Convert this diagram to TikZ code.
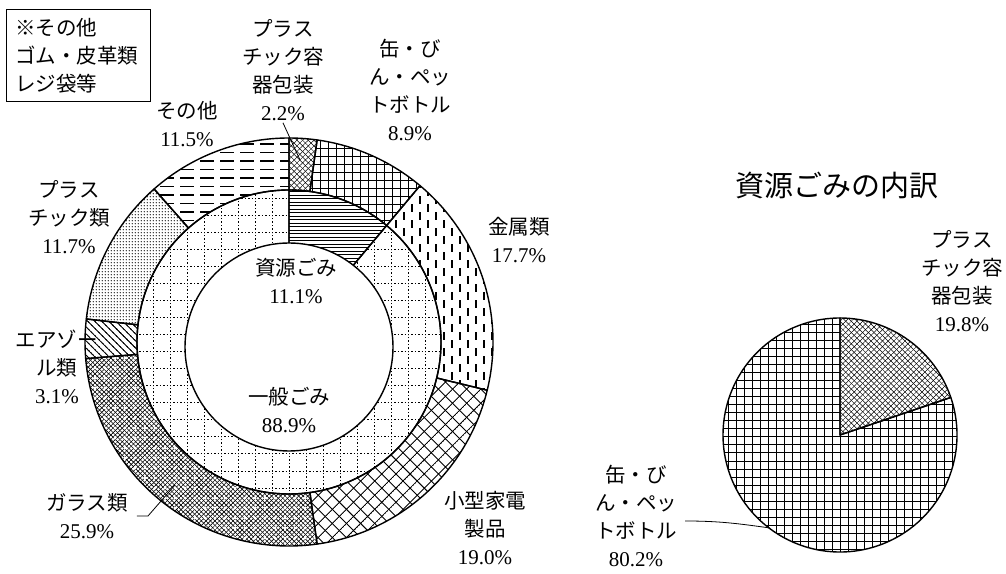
\documentclass[tikz,border=0pt]{standalone}
\usepackage{fontspec}
\newfontfamily\jp{Noto Sans CJK JP}
\newfontfamily\numfont{Liberation Serif}
\usetikzlibrary{patterns,patterns.meta,positioning}

\newcommand{\pc}[1]{{\numfont\fontsize{21}{28}\selectfont #1\%}}

% fill patterns of the chart
\tikzdeclarepattern{
  name=hlines,
  bottom left={(-1pt,-1pt)},
  top right={(4.5pt,1pt)},
  tile size={(3.5pt,3.5pt)},
  code={\draw[line width=.9pt] (-1pt,0pt) -- (4.5pt,0pt);}
}
\tikzdeclarepattern{
  name=dotgrid,
  bottom left={(-1pt,-1pt)},
  top right={(18pt,18pt)},
  tile size={(17pt,17pt)},
  code={\draw[line width=1pt, dash pattern=on 1.4pt off 2pt] (0pt,0pt) -- (17pt,0pt) (0pt,0pt) -- (0pt,17pt);}
}
\tikzdeclarepattern{
  name=biggrid,
  bottom left={(-.6pt,-.6pt)},
  top right={(8.6pt,8.6pt)},
  tile size={(8pt,8pt)},
  code={\draw[line width=1pt] (0pt,0pt) -- (8pt,0pt) (0pt,0pt) -- (0pt,8pt);}
}
\tikzdeclarepattern{
  name=vdash,
  bottom left={(2pt,0pt)},
  top right={(14pt,17pt)},
  tile size={(16pt,16pt)},
  code={\draw[line width=1.6pt] (4pt,1pt) -- (4pt,9pt) (12pt,9pt) -- (12pt,17pt);}
}
\tikzdeclarepattern{
  name=diagrid,
  bottom left={(-.5pt,-.5pt)},
  top right={(10.5pt,10.5pt)},
  tile size={(10pt,10pt)},
  tile transformation={rotate=45},
  code={\draw[line width=.9pt] (0pt,0pt) -- (10pt,0pt) (0pt,0pt) -- (0pt,10pt);}
}
\tikzdeclarepattern{
  name=dashh,
  bottom left={(0pt,3pt)},
  top right={(14pt,5pt)},
  tile size={(20pt,8.5pt)},
  code={\draw[line width=1.1pt] (0pt,4pt) -- (14pt,4pt);}
}
\tikzdeclarepattern{
  name=densecross,
  bottom left={(-.4pt,-.4pt)},
  top right={(3.6pt,3.6pt)},
  tile size={(3.2pt,3.2pt)},
  tile transformation={rotate=45},
  code={\draw[line width=.6pt] (0pt,0pt) -- (3.2pt,0pt) (0pt,0pt) -- (0pt,3.2pt);}
}
\tikzdeclarepattern{
  name=finecross,
  bottom left={(-.4pt,-.4pt)},
  top right={(4.4pt,4.4pt)},
  tile size={(4pt,4pt)},
  tile transformation={rotate=45},
  code={\draw[line width=.5pt] (0pt,0pt) -- (4pt,0pt) (0pt,0pt) -- (0pt,4pt);}
}
\tikzdeclarepattern{
  name=whitedots,
  bottom left={(2.5pt,2.5pt)},
  top right={(7.5pt,7.5pt)},
  tile size={(10pt,10pt)},
  code={\fill (5pt,5pt) circle[radius=1.7pt];}
}
\tikzdeclarepattern{
  name=densedots,
  bottom left={(0pt,0pt)},
  top right={(3.2pt,3.2pt)},
  tile size={(3.2pt,3.2pt)},
  code={\fill (1.6pt,1.6pt) circle[radius=.85pt];}
}
\tikzdeclarepattern{
  name=nwlines,
  bottom left={(-1pt,-.6pt)},
  top right={(6pt,.6pt)},
  tile size={(5pt,5pt)},
  tile transformation={rotate=-45},
  code={\draw[line width=.9pt] (-1pt,0pt) -- (6pt,0pt);}
}

\begin{document}
\begin{tikzpicture}[x=1pt,y=1pt,
  lbl/.style={font=\jp\fontsize{20.5}{28}\selectfont, align=center, inner sep=2pt},
  wedgeline/.style={line width=1.4pt, line join=round},
  leader/.style={line width=.8pt}]
\useasboundingbox (0,0) rectangle (1006,573);

% donut chart
\begin{scope}[shift={(289,231)}]
  % outer ring
  \draw[wedgeline, pattern=finecross] (90:204pt) arc[start angle=90, end angle=82.08, radius=204pt] -- (82.08:152pt) arc[start angle=82.08, end angle=90, radius=152pt] -- cycle;
  \draw[wedgeline, pattern=biggrid] (82.08:204pt) arc[start angle=82.08, end angle=50.04, radius=204pt] -- (50.04:152pt) arc[start angle=50.04, end angle=82.08, radius=152pt] -- cycle;
  \draw[wedgeline, pattern=vdash] (50.04:204pt) arc[start angle=50.04, end angle=-13.68, radius=204pt] -- (-13.68:152pt) arc[start angle=-13.68, end angle=50.04, radius=152pt] -- cycle;
  \draw[wedgeline, pattern=diagrid] (-13.68:204pt) arc[start angle=-13.68, end angle=-82.08, radius=204pt] -- (-82.08:152pt) arc[start angle=-82.08, end angle=-13.68, radius=152pt] -- cycle;
  \draw[wedgeline, preaction={pattern=densecross, pattern color=black}, pattern=whitedots, pattern color=white] (-82.08:204pt) arc[start angle=-82.08, end angle=-175.32, radius=204pt] -- (-175.32:152pt) arc[start angle=-175.32, end angle=-82.08, radius=152pt] -- cycle;
  \draw[wedgeline, pattern=nwlines] (-175.32:204pt) arc[start angle=-175.32, end angle=-186.48, radius=204pt] -- (-186.48:152pt) arc[start angle=-186.48, end angle=-175.32, radius=152pt] -- cycle;
  \draw[wedgeline, pattern=densedots] (-186.48:204pt) arc[start angle=-186.48, end angle=-228.6, radius=204pt] -- (-228.6:152pt) arc[start angle=-228.6, end angle=-186.48, radius=152pt] -- cycle;
  \draw[wedgeline, pattern=dashh] (-228.6:204pt) arc[start angle=-228.6, end angle=-270, radius=204pt] -- (-270:152pt) arc[start angle=-270, end angle=-228.6, radius=152pt] -- cycle;
  % inner ring
  \draw[wedgeline, pattern=hlines] (0,0) -- (90:152pt) arc[start angle=90, end angle=50.04, radius=152pt] -- cycle;
  \draw[wedgeline, pattern=dotgrid] (0,0) -- (50.04:152pt) arc[start angle=50.04, end angle=-270, radius=152pt] -- cycle;
  \draw[wedgeline, fill=white] (0,-5) circle[radius=104pt];
\end{scope}

% pie of resource waste
\begin{scope}[shift={(840,138)}]
  \draw[wedgeline, pattern=finecross] (0,0) -- (90:117pt) arc[start angle=90, end angle=18.72, radius=117pt] -- cycle;
  \draw[wedgeline, pattern=biggrid] (0,0) -- (18.72:117pt) arc[start angle=18.72, end angle=-270, radius=117pt] -- cycle;
\end{scope}

\node[lbl, draw, line width=1pt, minimum width=144pt, minimum height=92pt, align=left, text width=126pt] (notebox) at (78,517) {※その他\\ゴム・皮革類\\レジ袋等};

\node[lbl] (otherlbl) at (187,449) {その他\\\pc{11.5}};
\node[lbl] (pcontlbl) at (283,503) {プラス\\チック容\\器包装\\\pc{2.2}};
\node[lbl] (canlbl) at (410,483) {缶・び\\ん・ペッ\\トボトル\\\pc{8.9}};
\node[lbl] (metallbl) at (519,333) {金属類\\\pc{17.7}};
\node[lbl] (eleclbl) at (485,45) {小型家電\\製品\\\pc{19.0}};
\node[lbl] (glasslbl) at (87,57) {ガラス類\\\pc{25.9}};
\node[lbl] (aerolbl) at (57,206) {エアゾー\\ル類\\\pc{3.1}};
\node[lbl] (plasticlbl) at (69,356) {プラス\\チック類\\\pc{11.7}};
\node[lbl] (reslbl) at (296,292) {資源ごみ\\\pc{11.1}};
\node[lbl] (genlbl) at (289,163) {一般ごみ\\\pc{88.9}};

\node[lbl, font=\jp\fontsize{29}{34}\selectfont] (title) at (837,388) {資源ごみの内訳};
\node[lbl] (pcont2) at (962,292) {プラス\\チック容\\器包装\\\pc{19.8}};
\node[lbl] (can2) at (636,57) {缶・び\\ん・ペッ\\トボトル\\\pc{80.2}};

% leader lines
\coordinate (pcontend) at (300,413);
\coordinate (glassend) at (175,88);
\coordinate (can2end) at (770,45);
\draw[leader] (pcontlbl.south) -- (pcontend);
\draw[leader] ([xshift=7pt]glasslbl.east) -- ++(11,0) -- (glassend);
\draw[leader] ([xshift=6pt,yshift=-5pt]can2.east) to[out=0, in=172] (can2end);
\end{tikzpicture}
\end{document}
